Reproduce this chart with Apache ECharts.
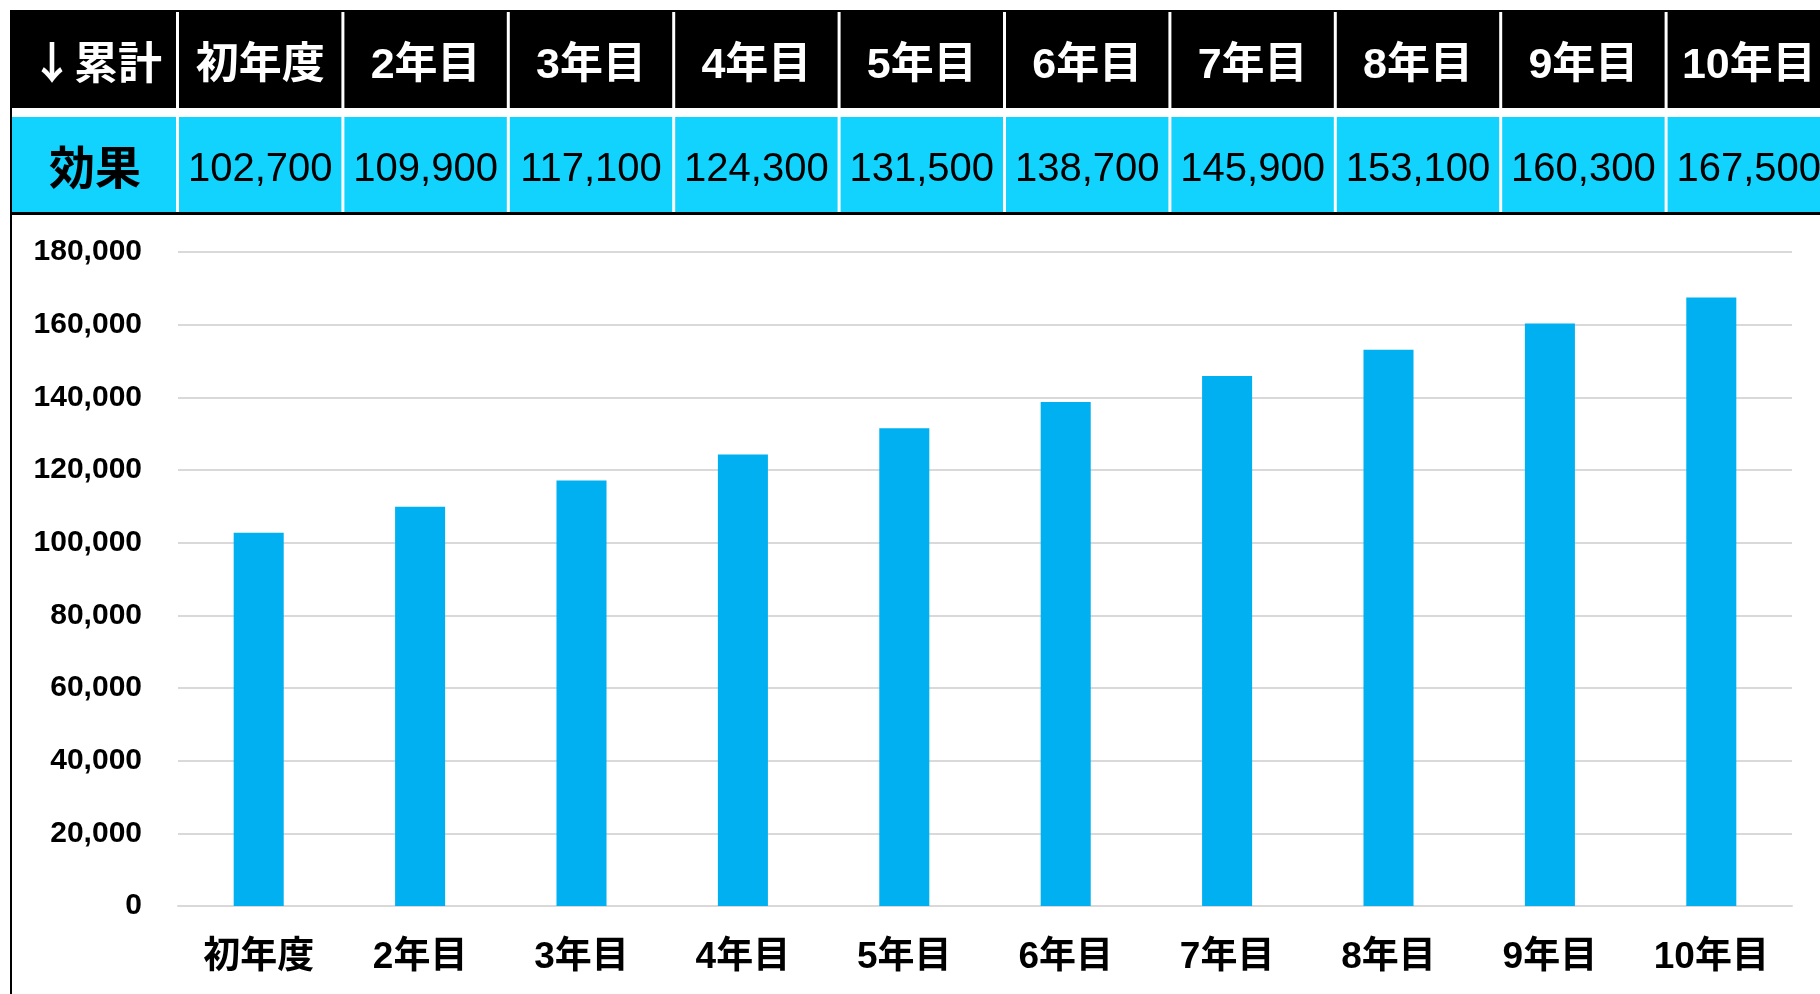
<!DOCTYPE html>
<html>
<head>
<meta charset="utf-8">
<script src="https://cdn.jsdelivr.net/npm/echarts@6/dist/echarts.min.js"></script>
<style>
  html, body { margin: 0; padding: 0; background: #fff; }
  #main { width: 1820px; height: 994px; }
</style>
</head>
<body>
<div id="main"></div>
<script>
// data
const categories = ['初年度', '2年目', '3年目', '4年目', '5年目', '6年目', '7年目', '8年目', '9年目', '10年目']
const effect = [102700, 109900, 117100, 124300, 131500, 138700, 145900, 153100, 160300, 167500]
const headerLabel = '↓累計'
const rowLabel = '効果'

const FONT = '"Liberation Sans", "Noto Sans CJK JP", sans-serif'
const CJK = '"Noto Sans CJK JP", sans-serif'
const BAR = '#00B0F0'
const CYAN = '#11D3FD'

// table drawn with graphic elements
const colX0 = 176
const colW = 165.4
const graphics = []
graphics.push({ type: 'rect', shape: { x: 10, y: 10, width: 1810, height: 98 }, style: { fill: '#000' } })
graphics.push({ type: 'rect', shape: { x: 12, y: 117, width: 1808, height: 96 }, style: { fill: CYAN } })
graphics.push({ type: 'rect', shape: { x: 10, y: 212, width: 1810, height: 3 }, style: { fill: '#000' } })
graphics.push({ type: 'rect', shape: { x: 10, y: 10, width: 2, height: 984 }, style: { fill: '#000' } })

const cellText = (x, y, text, size, weight, color, family) => ({
    type: 'text', x: x, y: y,
    style: { text: text, fontSize: size, fontWeight: weight, fontFamily: family, fill: color, align: 'center', verticalAlign: 'middle' }
})

graphics.push(cellText(96, 62, headerLabel, 44, 'bold', '#fff', CJK))
graphics.push(cellText(95, 167, rowLabel, 46, 'bold', '#000', CJK))

categories.forEach((c, i) => {
    const left = colX0 + colW * i
    graphics.push({ type: 'rect', shape: { x: left, y: 12, width: 3, height: 96 }, style: { fill: '#fff' } })
    graphics.push({ type: 'rect', shape: { x: left, y: 117, width: 3, height: 95 }, style: { fill: '#fff' } })
    const cx = left + 1.5 + colW / 2
    graphics.push(cellText(cx, 66, c, 43, 'bold', '#fff', FONT))
    graphics.push(cellText(cx, 170, effect[i].toLocaleString('en-US'), 40, 'normal', '#000', FONT))
})

const chart = echarts.init(document.getElementById('main'))
const option = {
    animation: false,
    grid: { left: 178, right: 28, top: 252, bottom: 88 },
    xAxis: {
        type: 'category',
        data: categories,
        axisLine: { lineStyle: { color: '#d9d9d9', width: 2 } },
        axisTick: { show: false },
        axisLabel: { interval: 0, fontSize: 37, fontWeight: 'bold', fontFamily: FONT, color: '#000', margin: 33 }
    },
    yAxis: {
        type: 'value',
        min: 0,
        max: 180000,
        interval: 20000,
        axisLine: { show: false },
        axisTick: { show: false },
        axisLabel: {
            fontSize: 30, fontWeight: 'bold', fontFamily: FONT, color: '#000', margin: 36,
            padding: [8, 0, 0, 0],
            formatter: v => v.toLocaleString('en-US')
        },
        splitLine: { lineStyle: { color: '#d9d9d9', width: 2 } }
    },
    series: [{
        type: 'bar',
        data: effect,
        barWidth: '31%',
        itemStyle: { color: BAR }
    }],
    graphic: graphics
}
chart.setOption(option)
</script>
</body>
</html>
